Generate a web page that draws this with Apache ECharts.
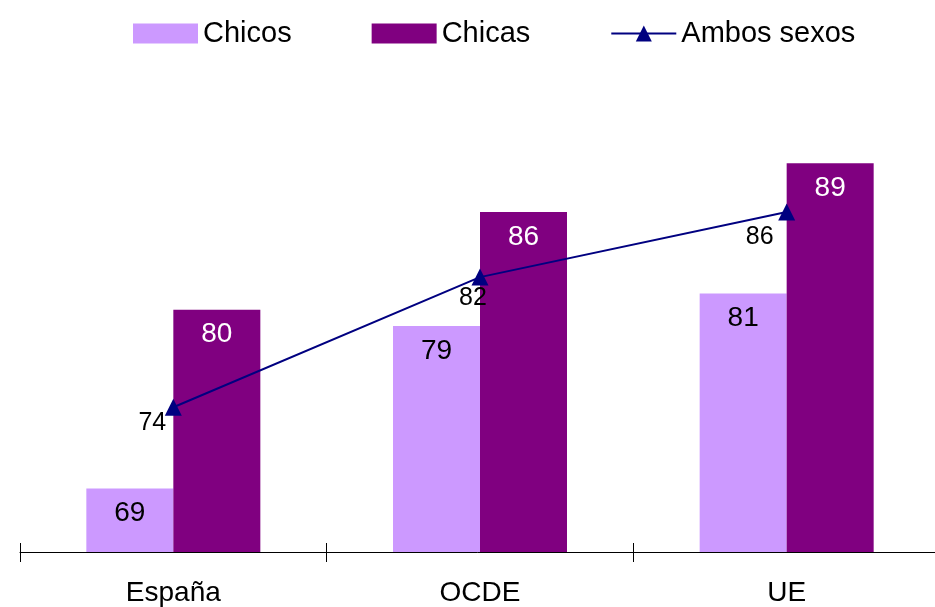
<!DOCTYPE html>
<html>
<head>
<meta charset="utf-8">
<script src="https://cdn.jsdelivr.net/npm/echarts@6/dist/echarts.min.js"></script>
<style>
html,body{margin:0;padding:0;background:#fff;}
#chart{width:935px;height:607px;}
</style>
</head>
<body>
<div id="chart"></div>
<script>
const categories = ['España', 'OCDE', 'UE'];
const chicos = [69, 79, 81];
const chicas = [80, 86, 89];
const ambos = [74, 82, 86];

const FONT = "'Liberation Sans', Arial, sans-serif";
const lineLabelOffsets = [[-21, 16], [-7, 21], [-27, 25]];

const chart = echarts.init(document.getElementById('chart'), null, {renderer: 'canvas'});
chart.setOption({
  animation: false,
  backgroundColor: '#ffffff',
  textStyle: {fontFamily: FONT},
  legend: {
    top: 14,
    left: 128,
    itemWidth: 65,
    itemHeight: 20,
    itemGap: 80,
    textStyle: {fontSize: 29, color: '#000', fontFamily: FONT},
    data: [
      {name: 'Chicos', icon: 'rect'},
      {name: 'Chicas', icon: 'rect'},
      {name: 'Ambos sexos'}
    ]
  },
  grid: {left: 20, top: 147, width: 920, height: 405, containLabel: false, outerBoundsMode: 'none'},
  xAxis: [
    {
      type: 'category',
      data: categories,
      position: 'bottom',
      axisLine: {show: true, lineStyle: {color: '#000', width: 1}},
      axisTick: {show: true, inside: false, length: 10, lineStyle: {color: '#000'}},
      axisLabel: {fontSize: 28, color: '#000', margin: 27, fontFamily: FONT},
      splitLine: {show: false}
    },
    {
      type: 'category',
      data: categories,
      position: 'bottom',
      axisLine: {show: false},
      axisTick: {show: true, inside: true, length: 9, lineStyle: {color: '#000'}},
      axisLabel: {show: false},
      splitLine: {show: false}
    }
  ],
  yAxis: {
    type: 'value',
    min: 65.1,
    max: 90,
    show: false,
    splitLine: {show: false}
  },
  series: [
    {
      name: 'Chicos',
      type: 'bar',
      data: chicos,
      barWidth: 87,
      barGap: '0%',
      itemStyle: {color: '#CC99FF'},
      label: {show: true, position: 'insideTop', distance: 11, fontSize: 28, color: '#000', fontFamily: FONT}
    },
    {
      name: 'Chicas',
      type: 'bar',
      data: chicas,
      barWidth: 87,
      barGap: '0%',
      itemStyle: {color: '#800080'},
      label: {show: true, position: 'insideTop', distance: 11, fontSize: 28, color: '#fff', fontFamily: FONT}
    },
    {
      name: 'Ambos sexos',
      type: 'line',
      z: 5,
      data: ambos.map((v, i) => ({value: v, label: {offset: lineLabelOffsets[i]}})),
      symbol: 'triangle',
      symbolSize: 17,
      lineStyle: {color: '#000080', width: 2},
      itemStyle: {color: '#000080'},
      label: {show: true, position: 'inside', fontSize: 25, color: '#000', fontFamily: FONT}
    }
  ]
});
</script>
</body>
</html>
